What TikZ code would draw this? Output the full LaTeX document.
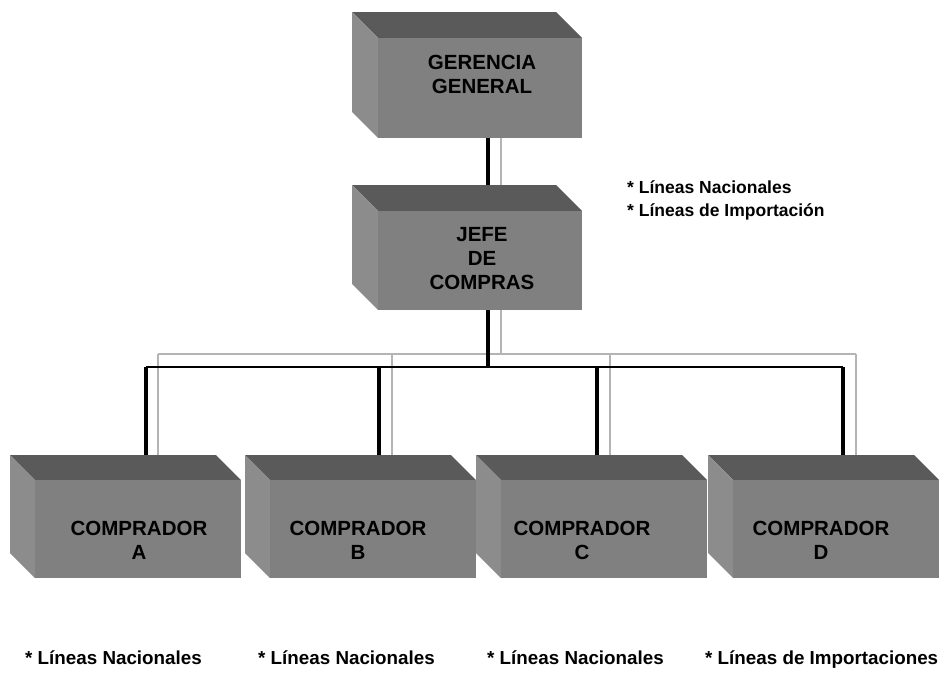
\documentclass[tikz,border=0pt]{standalone}
\usepackage{fontspec}
\setmainfont{Liberation Sans}
\usetikzlibrary{calc}

% colours of the three visible faces of a block
\definecolor{facefront}{HTML}{808080}
\definecolor{facetop}{HTML}{5A5A5A}
\definecolor{faceleft}{HTML}{8C8C8C}
\definecolor{wiregray}{HTML}{B4B4B4}

\tikzset{
  blocklabel/.style={font=\bfseries\fontsize{20.5}{24}\selectfont, align=center, inner sep=0pt},
  notelabel/.style={font=\bfseries\fontsize{17.5}{23}\selectfont, align=left, inner sep=0pt, anchor=west},
  footlabel/.style={font=\bfseries\fontsize{18.8}{22}\selectfont, inner sep=0pt, anchor=base west},
  blockarea/.style={draw=none, inner sep=0pt, outer sep=0pt, anchor=north west},
  wireblack/.style={draw=black, line width=3.2pt},
  busblack/.style={draw=black, line width=2.2pt},
  wiregrey/.style={draw=wiregray, line width=2.6pt},
}

% \solidblock{name}{x0}{y0}{back width}{bottom}{depth}
\newcommand\solidblock[6]{%
  \fill[facetop] (#2,#3) -- ({#2+#4},#3) -- ({#2+#4+#6},{#3+#6}) -- ({#2+#6},{#3+#6}) -- cycle;
  \fill[faceleft] (#2,#3) -- ({#2+#6},{#3+#6}) -- ({#2+#6},#5) -- (#2,{#5-#6}) -- cycle;
  \fill[facefront] ({#2+#6},{#3+#6}) rectangle ({#2+#4+#6},#5);
  \node[blockarea, minimum width={(#4+#6)*1pt}, minimum height={(#5-#3)*1pt}] (#1) at (#2,#3) {};
}

\begin{document}
\begin{tikzpicture}[x=1pt,y=-1pt]
\useasboundingbox[fill=white] (0,0) rectangle (939,672);

% blocks
\solidblock{ger}{352}{12}{204}{138}{26}
\solidblock{jefe}{352}{185}{204}{310}{26}
\solidblock{ca}{10}{455}{206}{578}{25}
\solidblock{cb}{245}{455}{206}{578}{25}
\solidblock{cc}{476}{455}{206}{578}{25}
\solidblock{cd}{708}{455}{206}{578}{25}

\node[blocklabel] (tger) at (482,74) {GERENCIA\\GENERAL};
\node[blocklabel] (tjefe) at (482,259) {JEFE\\DE\\COMPRAS};
\node[blocklabel] (tca) at (139,540) {COMPRADOR\\A};
\node[blocklabel] (tcb) at (358,540) {COMPRADOR\\B};
\node[blocklabel] (tcc) at (582,540) {COMPRADOR\\C};
\node[blocklabel] (tcd) at (821,540) {COMPRADOR\\D};

% wire positions
\coordinate (kx) at (488,0);
\coordinate (gx) at (501,0);
\coordinate (kbus) at (0,367);
\coordinate (gbus) at (0,354);
\coordinate (ka) at (146,367);
\coordinate (kb) at (379,367);
\coordinate (kc) at (597,367);
\coordinate (kd) at (843,367);
\coordinate (ga) at (158,354);
\coordinate (gb) at (392,354);
\coordinate (gc) at (610,354);
\coordinate (gd) at (856,354);

% grey wires
\draw[wiregrey] (ger.south -| gx) -- (jefe.north -| gx);
\draw[wiregrey] (jefe.south -| gx) -- (gbus -| gx);
\draw[wiregrey] (ga) -- (gd);
\draw[wiregrey] (ga) -- (ca.north -| ga);
\draw[wiregrey] (gb) -- (cb.north -| gb);
\draw[wiregrey] (gc) -- (cc.north -| gc);
\draw[wiregrey] (gd) -- (cd.north -| gd);

% black wires
\draw[wireblack] (ger.south -| kx) -- (jefe.north -| kx);
\draw[wireblack] (jefe.south -| kx) -- (kbus -| kx);
\draw[busblack] (ka) -- (kd);
\draw[wireblack] (ka) -- (ca.north -| ka);
\draw[wireblack] (kb) -- (cb.north -| kb);
\draw[wireblack] (kc) -- (cc.north -| kc);
\draw[wireblack] (kd) -- (cd.north -| kd);

% notes
\node[notelabel] (njefe) at (627,200) {* Líneas Nacionales\\* Líneas de Importación};
\node[footlabel] (na) at (25,664) {* Líneas Nacionales};
\node[footlabel] (nb) at (258,664) {* Líneas Nacionales};
\node[footlabel] (nc) at (487,664) {* Líneas Nacionales};
\node[footlabel] (nd) at (705,664) {* Líneas de Importaciones};
\end{tikzpicture}
\end{document}
